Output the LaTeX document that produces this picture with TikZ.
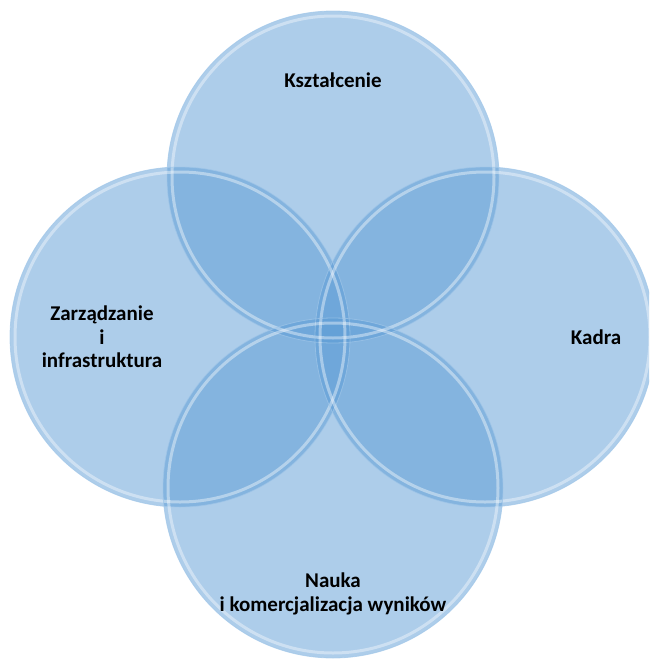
\documentclass[tikz,border=0pt]{standalone}
\usepackage{fontspec}
\setmainfont{Carlito}
\definecolor{bubbleblue}{RGB}{91,155,213}
\definecolor{edgeblue}{RGB}{160,198,232}
\begin{document}
\begin{tikzpicture}[x=1pt,y=-1pt,
  bubble/.style={fill=bubbleblue, fill opacity=0.5, draw=none},
  rim/.style={draw=white, line width=3pt, draw opacity=0.4},
  outline/.style={draw=edgeblue, line width=0.8pt, draw opacity=0.7},
  lbl/.style={font=\bfseries\fontsize{21}{23.5}\selectfont, align=center, text=black}]
\useasboundingbox (0,0) rectangle (649,659);
\clip (0,0) rectangle (649,659);
\coordinate (ct) at (333,177);
\coordinate (cl) at (180,337);
\coordinate (cr) at (485,337);
\coordinate (cb) at (333,488);
\foreach \c/\r/\ri in {ct/166/161,cl/170/165,cr/170/165,cb/170/165}{
  \fill[bubble] (\c) circle (\r pt);
}
\foreach \c/\r/\ri in {ct/166/161,cl/170/165,cr/170/165,cb/170/165}{
  \draw[outline] (\c) circle (\r pt);
  \draw[rim] (\c) circle (\ri pt);
}
\node[lbl] (ksz) at (333,80) {Kształcenie};
\node[lbl] (zarz) at (102,337) {Zarządzanie\\i\\infrastruktura};
\node[lbl] (kadra) at (596,337) {Kadra};
\node[lbl] (nauka) at (333,594) {Nauka\\i komercjalizacja wyników};
\end{tikzpicture}
\end{document}
